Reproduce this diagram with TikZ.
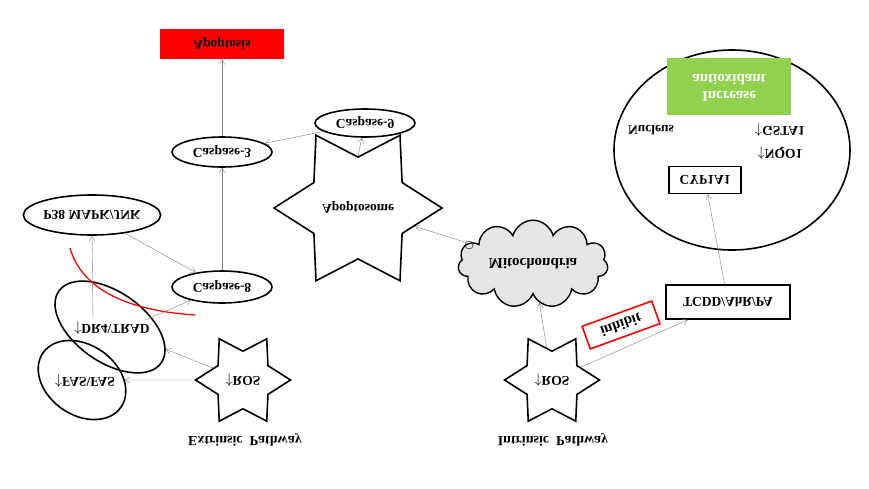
\documentclass[tikz,border=0pt]{standalone}
\usepackage{fontspec}
\setmainfont{Liberation Serif}
\usetikzlibrary{shapes.geometric,shapes.symbols,arrows.meta}
\newcommand{\fl}[1]{\scalebox{1}[-1]{#1}}
\definecolor{lgreen}{HTML}{92D050}
\begin{document}
\begin{tikzpicture}[x=1pt,y=-1pt,font=\bfseries\fontsize{13.5}{15}\selectfont,
  ell/.style={draw,line width=1.6pt,ellipse,inner sep=0pt},
  starn/.style={draw,line width=1.6pt,star,star points=6,star point ratio=1.65,shape border rotate=90,minimum size=#1,inner sep=0pt},
  arr/.style={draw=gray,-{Straight Barb[length=5pt,width=6pt]},thin}]
\useasboundingbox (0,0) rectangle (869,488);
\node[fill=red,minimum width=124pt,minimum height=30pt] (apo) at (222,44) {\fl{Apoptosis}};
\node[ell,minimum width=100pt,minimum height=30pt] (c3) at (222,152) {\fl{Caspase-3}};
\node[ell,minimum width=100pt,minimum height=28pt] (c9) at (365,123) {\fl{Caspase-9}};
\node[starn=112pt] (aps) at (358,208) {\fl{Apoptosome}};
\node[ell,minimum width=130pt,minimum height=40pt] (p38) at (92,215) {\fl{P38 MAPK/JNK}};
\node[ell,minimum width=100pt,minimum height=32pt] (c8) at (222,287) {\fl{Caspase-8}};
\node[ell,minimum width=125pt,minimum height=70pt,rotate=-35] (dr4) at (110,327) {};
\node (dr4t) at (112,328) {\fl{$\uparrow$DR4\textbackslash TRAD}};
\node[ell,minimum width=95pt,minimum height=70pt,rotate=-35] (fas) at (82,380) {};
\node (fast) at (85,381) {\fl{$\uparrow$FAS\textbackslash FAS}};
\node[starn=95pt] (rosl) at (243,380) {\fl{$\uparrow$ROS}};
\node[starn=95pt] (rosr) at (552,380) {\fl{$\uparrow$ROS}};
\node[draw,line width=1.4pt,cloud,cloud puffs=11,aspect=2.2,fill=gray!20,minimum width=150pt,minimum height=72pt] (mito) at (533,264) {\fl{\fontsize{15}{17}\selectfont Mitochondria}};
\node[draw,circle,inner sep=0pt,minimum size=8pt] (sm) at (469,245) {};
\node[draw,line width=1.6pt,minimum width=124pt,minimum height=34pt] (tcdd) at (728,302) {\fl{TCDD/AhR/PA}};
\node[draw=red,line width=1.6pt,rotate=20,minimum width=74pt,minimum height=24pt] (inh) at (621,325) {\fl{\fontsize{15}{17}\selectfont inhibit}};
\node[ell,minimum width=236pt,minimum height=200pt] (nuc) at (732,150) {};
\node[fill=lgreen,minimum width=124pt,minimum height=57pt,text=white] (inc) at (729,86) {\fl{\fontsize{15}{17}\selectfont\begin{tabular}{c}Increase\\antioxidant\end{tabular}}};
\node (nt) at (651,130) {\fl{Nucleus}};
\node (gst) at (780,130) {\fl{$\uparrow$GSTA1}};
\node (nqo) at (780,153) {\fl{$\uparrow$NQO1}};
\node[draw,line width=1.6pt,minimum width=72pt,minimum height=27pt] (cyp) at (705,180) {\fl{CYP1A1}};
\node (ext) at (245,440) {\fl{\fontsize{14}{16}\selectfont Extrinsic\ \ Pathway}};
\node (int) at (553,440) {\fl{\fontsize{14}{16}\selectfont Intrinsic\ \ Pathway}};
\coordinate (d1) at (93,318);
\coordinate (d2) at (145,320);
\draw[red,line width=1.3pt] (70,248) .. controls (85,300) and (150,312) .. (195,315);
\draw[arr] (c3) -- (apo);
\draw[arr] (c9) -- (c3);
\draw[arr] (aps.north) -- (c9);
\draw[arr] (mito) -- (aps);
\draw[arr] (c8) -- (c3);
\draw[arr] (p38) -- (c8);
\draw[arr] (d1) -- (p38.south);
\draw[arr] (d2) -- (c8);
\draw[arr] (rosl) -- (dr4);
\draw[arr] (rosl) -- (fas);
\draw[arr] (rosr) -- (mito);
\draw[arr] (rosr) -- (tcdd);
\draw[arr] (tcdd) -- (cyp);
\end{tikzpicture}
\end{document}
